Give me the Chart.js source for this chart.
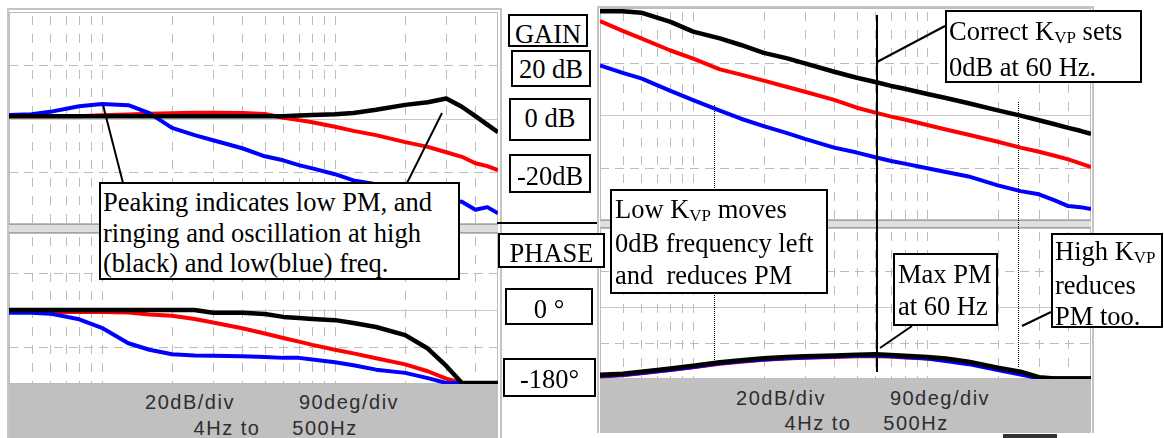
<!DOCTYPE html>
<html>
<head>
<meta charset="utf-8">
<script src="https://cdn.jsdelivr.net/npm/chart.js@4.4.1/dist/chart.umd.min.js"></script>
<style>
  html, body { margin: 0; padding: 0; background: #fff; }
  body { width: 1164px; height: 438px; position: relative; overflow: hidden; }
  .frame { position: absolute; box-sizing: border-box; border: 2px solid #c4c4c4; border-bottom: none; background: #fff; z-index: 0; }
  canvas { position: absolute; z-index: 1; }
  .sep { position: absolute; box-sizing: border-box; background: #dedede; border-top: 1px solid #a4a4a4; border-bottom: 1px solid #a4a4a4; z-index: 2; }
  .foot { position: absolute; background: #c0c0c0; font-family: 'Liberation Sans', Arial, sans-serif; font-size: 20px; letter-spacing: 1.5px; color: #2e2e2e; z-index: 2; }
  .foot span { position: absolute; transform: translate(-50%, -50%); white-space: nowrap; }
  svg { position: absolute; left: 0; top: 0; z-index: 3; }
  .box { position: absolute; box-sizing: border-box; border: 2px solid #000; background: #fff; font-family: 'Liberation Serif', 'Times New Roman', serif; font-size: 26.5px; color: #000; white-space: pre; overflow: hidden; z-index: 4; }
  .lbl { text-align: center; line-height: 26px; }
  sub { font-size: 17px; vertical-align: baseline; position: relative; top: 3px; }
</style>
</head>
<body>

<!-- left scope window -->
<div class="frame" style="left:7px; top:8px; width:495px; height:430px;"></div>
<canvas id="gainL" width="489" height="212" style="left:9px; top:12px;"></canvas>
<div class="sep" style="left:9px; top:224px; width:489px; height:9px;"></div>
<canvas id="phaseL" width="489" height="151" style="left:9px; top:233px;"></canvas>
<div class="foot" style="left:9px; top:384px; width:489px; height:54px;">
  <span style="left:181px; top:18px;">20dB/div</span>
  <span style="left:340px; top:18px;">90deg/div</span>
  <span style="left:218px; top:44px;">4Hz to</span>
  <span style="left:316px; top:44px;">500Hz</span>
</div>

<!-- right scope window -->
<div class="frame" style="left:597px; top:6px; width:497px; height:427px;"></div>
<canvas id="gainR" width="491" height="212" style="left:600px; top:8px;"></canvas>
<div class="sep" style="left:600px; top:220px; width:491px; height:8px;"></div>
<canvas id="phaseR" width="491" height="151" style="left:600px; top:228px;"></canvas>
<div class="foot" style="left:600px; top:379px; width:491px; height:54px;">
  <span style="left:181px; top:19px;">20dB/div</span>
  <span style="left:340px; top:19px;">90deg/div</span>
  <span style="left:218px; top:44px;">4Hz to</span>
  <span style="left:316px; top:44px;">500Hz</span>
</div>
<div style="position:absolute; left:1003px; top:434px; width:54px; height:4px; background:#333;"></div>

<svg width="1164" height="438">
  <g stroke="#000" stroke-width="2" fill="none">
    <line x1="497" y1="223" x2="597" y2="223"/>
    <line x1="123" y1="183" x2="103" y2="105"/>
    <line x1="407" y1="183" x2="442" y2="113"/>
    <line x1="877" y1="15" x2="877" y2="372"/>
    <line x1="877" y1="62" x2="945" y2="26"/>
    <line x1="880" y1="348" x2="912" y2="326"/>
    <line x1="1022" y1="326" x2="1051" y2="312"/>
  </g>
  <g stroke="#000" stroke-width="1" stroke-dasharray="1,1">
    <line x1="714.5" y1="105" x2="714.5" y2="363"/>
    <line x1="1018.5" y1="102" x2="1018.5" y2="367"/>
  </g>
</svg>

<!-- scale labels between the windows -->
<div class="box lbl" style="left:508px; top:14px; width:80px; height:33px; padding-top:5px;">GAIN</div>
<div class="box lbl" style="left:511px; top:50px; width:80px; height:37px; padding-top:4px;">20 dB</div>
<div class="box lbl" style="left:509px; top:98px; width:82px; height:43px; padding-top:5px;">0 dB</div>
<div class="box lbl" style="left:509px; top:154px; width:82px; height:39px; padding-top:7px;">-20dB</div>
<div class="box lbl" style="left:498px; top:233px; width:107px; height:35px; padding-top:5px;">PHASE</div>
<div class="box lbl" style="left:505px; top:288px; width:88px; height:37px; padding-top:6px;">0 °</div>
<div class="box lbl" style="left:503px; top:358px; width:93px; height:39px; padding-top:6px;">-180°</div>

<!-- notes -->
<div class="box" style="left:99px; top:182px; width:361px; height:98px; line-height:30.5px; padding:3px 0 0 2px;">Peaking indicates low PM, and
ringing and oscillation at high
(black) and low(blue) freq.</div>
<div class="box" style="left:945px; top:10px; width:197px; height:73px; line-height:32px; padding:3px 0 0 2px;">Correct K<sub>VP</sub> sets
0dB at 60 Hz.</div>
<div class="box" style="left:610px; top:189px; width:218px; height:105px; line-height:31.5px; padding:2.5px 0 0 3px;">Low K<sub>VP</sub> moves
0dB frequency left
and  reduces PM</div>
<div class="box" style="left:893px; top:253px; width:105px; height:73px; line-height:32px; padding:3px 0 0 3px;">Max PM
at 60 Hz</div>
<div class="box" style="left:1051px; top:233px; width:112px; height:95px; line-height:31px; padding:1px 0 0 2px;">High K<sub>VP</sub>
reduces
PM too.</div>

<script>
// frequency points (Hz), shared by every trace
const freqs = [4, 5, 6, 8, 10, 13, 16, 20, 25, 30, 40, 50, 60, 70, 80, 100, 120, 150, 200, 250, 300, 350, 400, 450, 500];

// scope graticule
const gridFreqs = [5, 6, 7, 8, 9, 10, 20, 30, 40, 50, 60, 70, 80, 90, 100, 200, 300, 400];
const gainGrid = [-20, 0, 20];
const phaseGrid = [-90, 0, 90];

// left window: closed loop (dB / deg)
const gainBlackL = [0.9, 0.9, 0.9, 0.9, 0.9, 0.9, 0.9, 0.9, 0.9, 0.9, 0.9, 0.9, 0.9, 1.1, 1.3, 1.6, 2.1, 3.3, 5.1, 6.1, 7.5, 4.4, 0.9, -2.3, -5.1];
const gainRedL = [0.9, 0.9, 0.9, 0.9, 1.2, 1.5, 1.8, 2, 2.2, 2.2, 2.1, 1.7, 0.3, -0.6, -1.4, -3.1, -4.6, -6.2, -8.8, -10.6, -12.6, -14.3, -16.7, -17.8, -19.3];
const gainBlueL = [1.3, 1.6, 2.5, 4.6, 5.4, 5, 2, -3.5, -6.2, -8.1, -11.1, -14.1, -15.6, -17.4, -18.6, -20.8, -23.1, -24.5, -27.5, -29.4, -30.5, -31.1, -34.1, -33.1, -35.4];
const phaseBlackL = [0, 0, 0, 0, 0, 0, 0, 0, 0, -7, -7, -10, -17, -20, -22, -25, -32, -42, -62, -95, -138, -180, -180, -180, -180];
const phaseRedL = [-5, -5, -5, -5, -5, -6, -11, -14, -22, -31, -45, -58, -69, -78, -86, -98, -107, -119, -134, -151, -169, -180, -180, -180, -180];
const phaseBlueL = [-7, -7, -9, -23, -44, -82, -98, -109, -112, -113, -114, -116, -118, -118, -122, -129, -136, -147, -155, -168, -180, -180, -180, -180, -180];

// right window: open loop (dB / deg)
const gainBlackR = [39.6, 39.6, 39, 35.5, 31.8, 29.2, 26.7, 23.7, 21.7, 19.7, 16.5, 14.2, 12.6, 11.1, 10, 8, 6.5, 4.5, 1.8, -0.2, -2, -3.5, -4.9, -6, -7.2];
const gainRedR = [35.8, 32.1, 29.2, 24.6, 21.5, 17.4, 15.4, 13.1, 10.8, 8.9, 5.8, 2.8, 0.9, -0.6, -1.7, -3.8, -5.5, -7.5, -10.2, -12.4, -14, -15.5, -16.9, -18.4, -19.8];
const gainBlueR = [18.9, 16.1, 14, 9.2, 5.7, 1.7, -1.4, -4.2, -6.8, -9.1, -12.4, -14.3, -16.1, -17.5, -18.5, -20.3, -21.7, -23.4, -26.8, -29, -30.2, -32.5, -34.7, -35.1, -35.8];
const phaseBlackR = [-171, -168, -163, -155, -148, -139, -134, -129, -126, -124, -122, -120, -119, -121, -123, -126, -130, -138, -153, -163, -177, -180, -180, -180, -180];
const phaseRedR = [-175, -172, -167, -159, -152, -143, -138, -133, -130, -128, -126, -124, -124, -125, -127, -130, -134, -142, -156, -167, -180, -180, -180, -180, -180];
const phaseBlueR = [-174, -171, -166, -158, -151, -142, -137, -132, -129, -127, -125, -123, -122, -124, -126, -130, -136, -144, -159, -170, -180, -180, -180, -180, -180];

// dashed scope graticule, drawn from the chart's own scales
const scopeGrid = {
    id: 'scopeGrid',
    beforeDatasetsDraw(chart, args, opts) {
        const { ctx, chartArea: a, scales: { x, y } } = chart;
        ctx.save();
        ctx.lineWidth = 1;
        ctx.strokeStyle = '#bcbcbc';

        ctx.setLineDash([9, 9]);
        gridFreqs.forEach(f => {
            const px = Math.round(x.getPixelForValue(f)) + 0.5;
            ctx.beginPath();
            ctx.moveTo(px, a.top + 4);
            ctx.lineTo(px, a.bottom);
            ctx.stroke();
        });

        opts.lines.forEach(v => {
            const py = Math.round(y.getPixelForValue(v)) + 0.5;
            ctx.setLineDash(v === 0 ? [] : [9, 6]);
            ctx.strokeStyle = v === 0 ? '#c8c8c8' : '#bcbcbc';
            ctx.beginPath();
            ctx.moveTo(a.left, py);
            ctx.lineTo(a.right, py);
            ctx.stroke();
        });

        ctx.setLineDash([]);
        ctx.strokeStyle = '#bdbdbd';
        ctx.strokeRect(a.left + 0.5, a.top + 0.5, a.right - a.left - 1, a.bottom - a.top - 1);
        ctx.restore();
    }
};

function trace(values, color, width) {
    return {
        data: freqs.map((f, i) => ({ x: f, y: values[i] })),
        borderColor: color,
        borderWidth: width,
        pointRadius: 0,
        tension: 0,
        fill: false,
        borderJoinStyle: 'round'
    };
}

function bodeChart(id, sets, yMin, yMax, lines) {
    return new Chart(document.getElementById(id), {
        type: 'line',
        data: { datasets: sets },
        options: {
            responsive: false,
            animation: false,
            devicePixelRatio: 1,
            layout: { padding: 0 },
            plugins: {
                legend: { display: false },
                tooltip: { enabled: false },
                scopeGrid: { lines: lines }
            },
            scales: {
                x: { type: 'logarithmic', min: 4, max: 500, display: false },
                y: { type: 'linear', min: yMin, max: yMax, display: false }
            }
        },
        plugins: [scopeGrid]
    });
}

// first dataset is drawn on top: black over blue over red
bodeChart('gainL', [
    trace(gainBlackL, '#000000', 4.5),
    trace(gainBlueL, '#0000ff', 4),
    trace(gainRedL, '#ff0000', 4)
], -39.4, 39.8, gainGrid);

bodeChart('phaseL', [
    trace(phaseBlackL, '#000000', 4.5),
    trace(phaseBlueL, '#0000ff', 4),
    trace(phaseRedL, '#ff0000', 4)
], -182.4, 189.8, phaseGrid);

bodeChart('gainR', [
    trace(gainBlackR, '#000000', 4.5),
    trace(gainBlueR, '#0000ff', 4),
    trace(gainRedR, '#ff0000', 4)
], -40, 40.8, gainGrid);

bodeChart('phaseR', [
    trace(phaseBlackR, '#000000', 4.5),
    trace(phaseBlueR, '#0000ff', 4),
    trace(phaseRedR, '#ff0000', 4)
], -181.4, 199, phaseGrid);
</script>
</body>
</html>
